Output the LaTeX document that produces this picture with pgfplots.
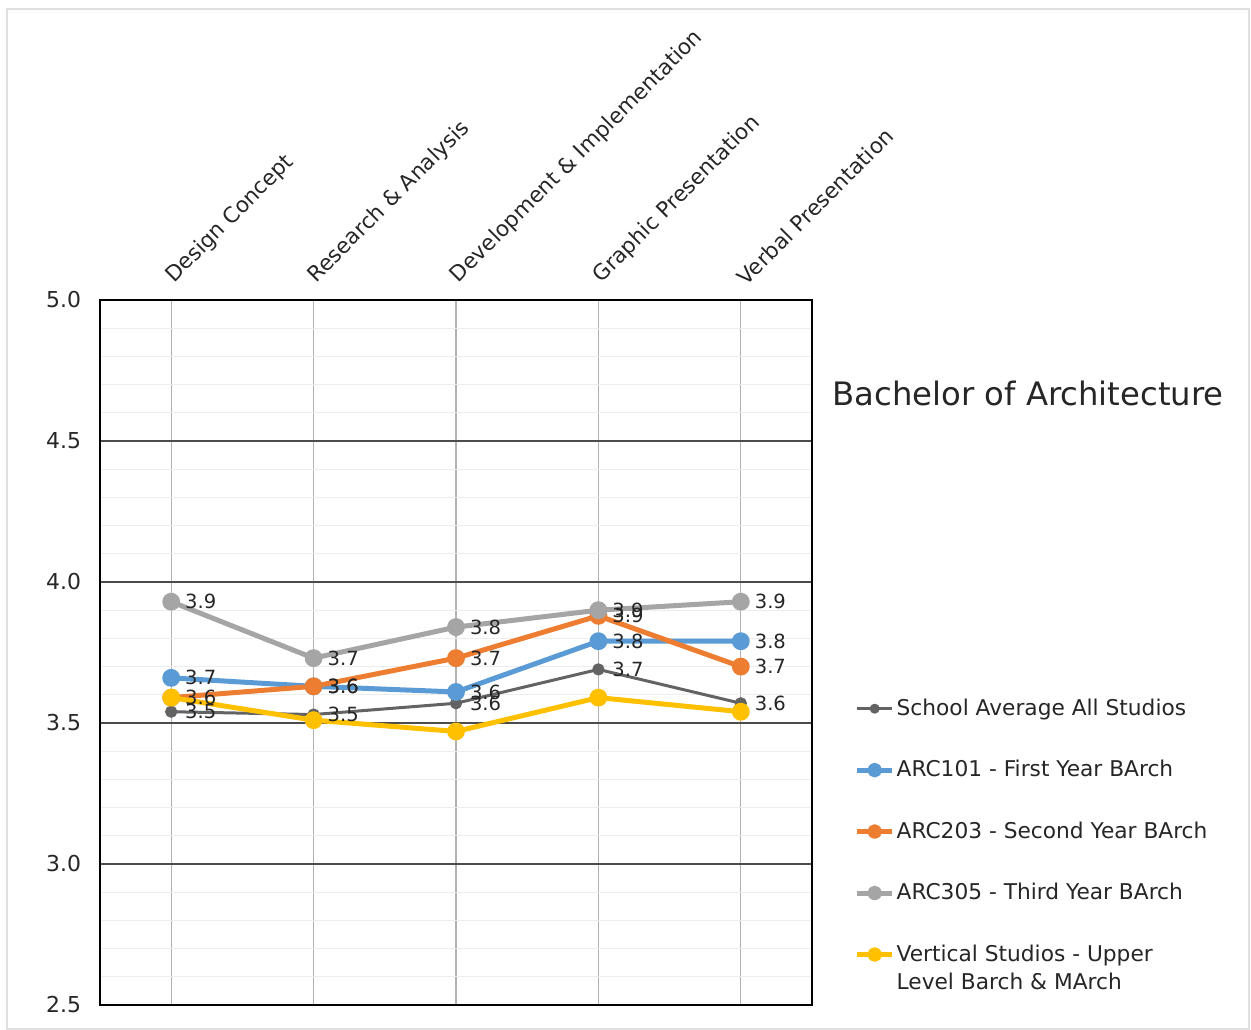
\documentclass[border=0pt]{standalone}
\usepackage{pgfplots}
\usepackage{pgfplotstable}
\pgfplotsset{compat=1.18}
\usepackage{fontspec}
\setmainfont{DejaVu Sans}

\definecolor{cSchool}{HTML}{636363}
\definecolor{cA101}{HTML}{5B9BD5}
\definecolor{cA203}{HTML}{ED7D31}
\definecolor{cA305}{HTML}{A5A5A5}
\definecolor{cVert}{HTML}{FFC000}
\definecolor{txt}{HTML}{262626}

% average score per criterion for each studio group
\pgfplotstableread{
x school a101 a203 a305 vert
0 3.54 3.66 3.59 3.93 3.59
1 3.53 3.63 3.63 3.73 3.51
2 3.57 3.61 3.73 3.84 3.47
3 3.69 3.79 3.88 3.90 3.59
4 3.57 3.79 3.70 3.93 3.54
}\scores

\pgfplotsset{
  /pgf/number format/assume math mode=true,
  series/.style={#1, line width=2.5bp, line join=round, mark=*, mark size=3.2bp},
  labels/.style={forget plot, draw=none, no marks, nodes near coords={\pgfmathprintnumber[fixed,fixed zerofill,precision=1]{\pgfplotspointmeta}},
    nodes near coords style={anchor=west, xshift=3.5bp, text=txt, font=\fontsize{9.8}{11}\selectfont}},
}

\begin{document}
\begin{tikzpicture}
\useasboundingbox (0,0) rectangle (625.5bp,515bp);
\draw[black!12, line width=0.8bp] (3.5bp,0.6bp) rectangle (624.5bp,510.5bp);
\begin{axis}[
  at={(50bp,12.5bp)}, anchor=south west,
  width=356bp, height=352.5bp, scale only axis,
  xmin=-0.5, xmax=4.5, ymin=2.5, ymax=5.0,
  xtick={0,...,4},
  xticklabels={Design Concept, Research \& Analysis, Development \& Implementation, Graphic Presentation, Verbal Presentation},
  xticklabel pos=top,
  xticklabel style={xshift=3bp, yshift=5bp, rotate=45, anchor=south west, text=txt, font=\fontsize{10.8}{12}\selectfont, inner sep=1bp},
  ytick={2.5,3,...,5},
  minor y tick num=4,
  yticklabel style={/pgf/number format/fixed, /pgf/number format/fixed zerofill, /pgf/number format/precision=1,
    text=txt, font=\fontsize{11}{13}\selectfont, xshift=-6bp},
  major tick length=0pt, minor tick length=0pt,
  xmajorgrids, ymajorgrids, yminorgrids,
  major x grid style={black!30, line width=0.6bp},
  major y grid style={black!70, line width=0.6bp},
  minor y grid style={black!7, line width=0.5bp},
  axis line style={black, line width=1bp},
  legend style={at={(1.051,0.446)}, anchor=north west, draw=none, fill=none,
    font=\fontsize{10.9}{14}\selectfont, text=txt, row sep=17bp,
    nodes={inner xsep=1bp}},
  legend cell align=left,
  legend image code/.code={\draw[mark repeat=2, mark phase=2, #1, mark options={scale=0.75}] plot coordinates {(0bp,0bp) (8.75bp,0bp) (17.5bp,0bp)};},
]
\addplot[cSchool, line width=1.5bp, line join=round, mark=*, mark size=2.3bp] table[x=x, y=school] {\scores};
\addlegendentry{School Average All Studios}
\addplot[series=cA101] table[x=x, y=a101] {\scores};
\addlegendentry{ARC101 - First Year BArch}
\addplot[series=cA203] table[x=x, y=a203] {\scores};
\addlegendentry{ARC203 - Second Year BArch}
\addplot[series=cA305] table[x=x, y=a305] {\scores};
\addlegendentry{ARC305 - Third Year BArch}
\addplot[series=cVert] table[x=x, y=vert] {\scores};
\addlegendentry{\parbox[t]{70mm}{\raggedright Vertical Studios - Upper\\Level Barch \& MArch}}

% value labels, set above all lines
\addplot[labels] table[x=x, y=school] {\scores};
\addplot[labels] table[x=x, y=a101] {\scores};
\addplot[labels] table[x=x, y=a203] {\scores};
\addplot[labels] table[x=x, y=a305] {\scores};
\end{axis}
\node[text=txt, font=\fontsize{16.2}{19}\selectfont] at (514bp,318.5bp) {Bachelor of Architecture};
\end{tikzpicture}
\end{document}
